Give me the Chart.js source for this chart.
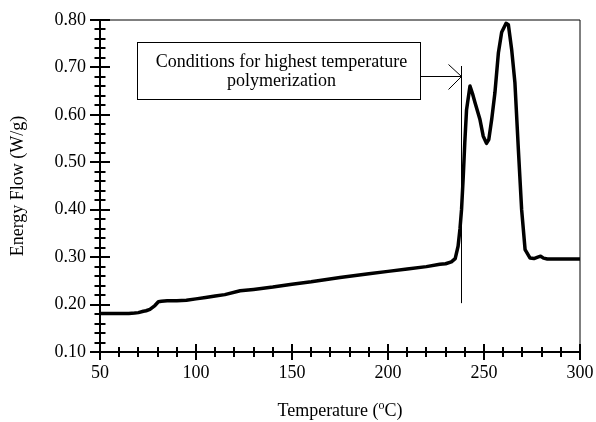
<!DOCTYPE html>
<html>
<head>
<meta charset="utf-8">
<script src="https://cdn.jsdelivr.net/npm/chart.js@4/dist/chart.umd.min.js"></script>
<style>
  html, body { margin: 0; padding: 0; background: #fff; }
  #wrap { width: 596px; height: 422px; }
</style>
</head>
<body>
<div id="wrap"><canvas id="dscChart" width="596" height="422"></canvas></div>
<script>
// DSC trace
const temperatures = [
  50, 55, 60, 65, 68, 70, 72.6, 74, 76, 78.6, 80.4, 82, 85, 90, 95,
  100, 105, 110, 115, 123, 130, 140, 150, 160, 175, 190, 200, 210, 220, 227,
  230, 233, 235, 236.5, 237.5, 238.3, 239.2, 240, 240.9, 242.7, 244, 245.3, 247.9, 249.6, 251.3,
  252.5, 254, 255.7, 257.5, 259.2, 261.5, 262.7, 264.4, 266.1, 267.9, 269.6, 271.4, 274, 276,
  278, 279.5, 281, 283, 290, 300
];
const energyFlow = [
  0.181, 0.181, 0.181, 0.181, 0.182, 0.183, 0.186, 0.187, 0.190, 0.198, 0.206, 0.207, 0.208, 0.208, 0.209,
  0.212, 0.215, 0.218, 0.221, 0.229, 0.232, 0.237, 0.243, 0.248, 0.257, 0.265, 0.270, 0.275, 0.280, 0.285,
  0.286, 0.290, 0.297, 0.323, 0.360, 0.400, 0.470, 0.542, 0.610, 0.661, 0.645, 0.626, 0.590, 0.555, 0.540,
  0.548, 0.590, 0.647, 0.731, 0.774, 0.793, 0.790, 0.738, 0.668, 0.527, 0.400, 0.316, 0.298, 0.297,
  0.300, 0.302, 0.298, 0.296, 0.296, 0.296
];

const xTickValues = [50, 100, 150, 200, 250, 300];
const yTickValues = [0.10, 0.20, 0.30, 0.40, 0.50, 0.60, 0.70, 0.80];
const xMinorStep = 10;
const yMinorStep = 0.02;

// annotation, in data units
const noteLines = ['Conditions for highest temperature', 'polymerization'];
const noteBox = { x0: 69.3, x1: 216.7, y0: 0.633, y1: 0.753 };
const markerTemp = 237.8;
const markerRange = [0.203, 0.703];
const arrowLevel = 0.682;

const serif = '"Liberation Serif", "Times New Roman", serif';

const decorations = {
  id: 'decorations',
  afterDraw(chart) {
    const { ctx, chartArea: a, scales: { x, y } } = chart;
    ctx.save();
    ctx.strokeStyle = '#000';
    ctx.fillStyle = '#000';

    // frame
    ctx.lineWidth = 1;
    ctx.beginPath();
    ctx.moveTo(a.left - 10, a.top);
    ctx.lineTo(a.right, a.top);
    ctx.lineTo(a.right, a.bottom);
    ctx.stroke();

    ctx.lineWidth = 2;
    ctx.beginPath();
    ctx.moveTo(a.left, a.top);
    ctx.lineTo(a.left, a.bottom);
    ctx.lineTo(a.right, a.bottom);
    ctx.stroke();

    // ticks crossing the axes
    for (let t = x.min; t <= x.max + 1e-6; t += xMinorStep) {
      const px = Math.round(x.getPixelForValue(t));
      const major = xTickValues.some((v) => Math.abs(v - t) < 1e-6);
      const h = major ? 8 : 5;
      ctx.beginPath();
      ctx.moveTo(px, a.bottom - h);
      ctx.lineTo(px, a.bottom + h);
      ctx.stroke();
    }
    for (let v = y.min; v <= y.max + 1e-6; v += yMinorStep) {
      const py = Math.round(y.getPixelForValue(v));
      const major = yTickValues.some((t) => Math.abs(t - v) < 1e-6);
      const w = major ? 10 : 5.5;
      ctx.beginPath();
      ctx.moveTo(a.left - w, py);
      ctx.lineTo(a.left + w, py);
      ctx.stroke();
    }

    // annotation box
    const bx0 = x.getPixelForValue(noteBox.x0), bx1 = x.getPixelForValue(noteBox.x1);
    const by0 = y.getPixelForValue(noteBox.y1), by1 = y.getPixelForValue(noteBox.y0);
    ctx.lineWidth = 1;
    ctx.strokeRect(Math.round(bx0) + 0.5, Math.round(by0) + 0.5, Math.round(bx1 - bx0), Math.round(by1 - by0));
    ctx.font = '18px ' + serif;
    ctx.textAlign = 'center';
    ctx.textBaseline = 'middle';
    const cx = (bx0 + bx1) / 2 + 3;
    ctx.fillText(noteLines[0], cx, by0 + 20);
    ctx.fillText(noteLines[1], cx, by0 + 39);

    // marker line and arrow
    const mx = Math.round(x.getPixelForValue(markerTemp)) + 0.5;
    ctx.beginPath();
    ctx.moveTo(mx, y.getPixelForValue(markerRange[1]));
    ctx.lineTo(mx, y.getPixelForValue(markerRange[0]));
    ctx.stroke();
    const ay = Math.round(y.getPixelForValue(arrowLevel)) + 0.5;
    ctx.beginPath();
    ctx.moveTo(bx1, ay);
    ctx.lineTo(mx, ay);
    ctx.moveTo(mx - 13, ay - 12);
    ctx.lineTo(mx, ay);
    ctx.lineTo(mx - 13, ay + 13);
    ctx.stroke();

    // axis titles
    ctx.textAlign = 'left';
    ctx.textBaseline = 'alphabetic';
    const xt1 = 'Temperature (', sup = 'o', xt2 = 'C)';
    ctx.font = '18px ' + serif;
    const w1 = ctx.measureText(xt1).width, w3 = ctx.measureText(xt2).width;
    ctx.font = '12px ' + serif;
    const w2 = ctx.measureText(sup).width;
    const tx = (a.left + a.right) / 2 - (w1 + w2 + w3) / 2;
    const ty = 416;
    ctx.font = '18px ' + serif;
    ctx.fillText(xt1, tx, ty);
    ctx.font = '12px ' + serif;
    ctx.fillText(sup, tx + w1, ty - 7);
    ctx.font = '18px ' + serif;
    ctx.fillText(xt2, tx + w1 + w2, ty);

    ctx.translate(18, (a.top + a.bottom) / 2);
    ctx.rotate(-Math.PI / 2);
    ctx.textAlign = 'center';
    ctx.textBaseline = 'middle';
    ctx.fillText('Energy Flow (W/g)', 0, 0);
    ctx.restore();
  }
};

new Chart(document.getElementById('dscChart'), {
  type: 'scatter',
  data: {
    datasets: [{
      data: temperatures.map((t, i) => ({ x: t, y: energyFlow[i] })),
      showLine: true,
      borderColor: '#000',
      borderWidth: 3.5,
      borderJoinStyle: 'round',
      borderCapStyle: 'round',
      pointRadius: 0,
      tension: 0,
      fill: false
    }]
  },
  options: {
    responsive: false,
    animation: false,
    devicePixelRatio: 1,
    layout: { padding: { top: 20, right: 16, left: 0, bottom: 0 } },
    plugins: { legend: { display: false }, tooltip: { enabled: false } },
    scales: {
      x: {
        type: 'linear',
        min: 50,
        max: 300,
        afterBuildTicks: (s) => { s.ticks = xTickValues.map((v) => ({ value: v })); },
        afterFit: (s) => { s.height = 70; s.paddingLeft = 0; s.paddingRight = 0; },
        grid: { display: false, drawTicks: false },
        border: { display: false },
        ticks: { color: '#000', padding: 10, maxRotation: 0, font: { family: serif, size: 18 } }
      },
      y: {
        min: 0.1,
        max: 0.8,
        afterBuildTicks: (s) => { s.ticks = yTickValues.map((v) => ({ value: v })); },
        afterFit: (s) => { s.width = 100; s.paddingTop = 0; s.paddingBottom = 0; },
        grid: { display: false, drawTicks: false },
        border: { display: false },
        ticks: { color: '#000', padding: 14, font: { family: serif, size: 18 }, callback: (v) => Number(v).toFixed(2) }
      }
    }
  },
  plugins: [decorations]
});
</script>
</body>
</html>
